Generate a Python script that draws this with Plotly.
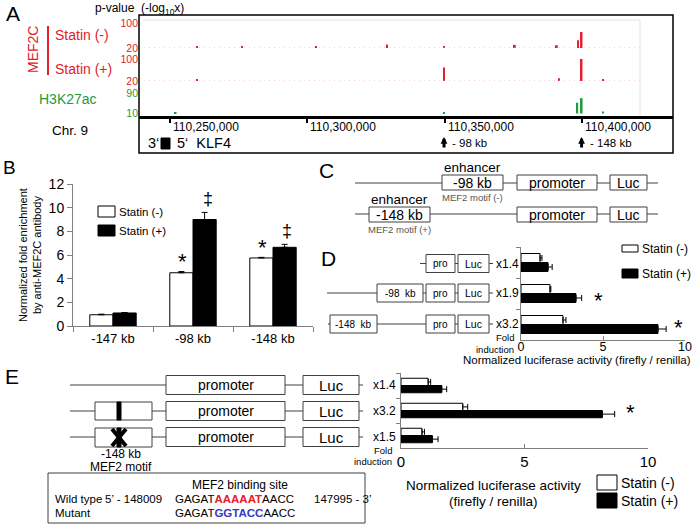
import plotly.graph_objects as go

W, H = 697, 528
FONT = 'Liberation Sans, Arial, sans-serif'
RED = '#e3202b'
GREEN = '#1f9a3c'
PINK = '#f4a9b0'
GREY = '#808080'
DARK = '#404040'

# ---- A: chr9 signal tracks (-log10 p) ----
chr_ticks = [110250000, 110300000, 110350000, 110400000]
chr_ticktext = ['110,250,000', '110,300,000', '110,350,000', '110,400,000']
chr_range = [110238700, 110433200]
track_end = 110421100
minus_pos = [110259800, 110276200, 110303200, 110329000, 110349800, 110375600, 110390900, 110398600, 110399900]
minus_val = [24, 26, 25, 31, 25, 30, 29, 45, 71]
plus_pos = [110259800, 110349800, 110391700, 110399900, 110407700]
plus_val = [24, 69, 30, 100, 27]
h3k_pos = [110252000, 110349800, 110398300, 110399900, 110407700]
h3k_val = [13, 13, 52, 70, 18]
sites = ['- 98 kb', '- 148 kb']
site_pos = [110349800, 110399900]

# ---- B: ChIP-qPCR ----
b_sites = ['-147 kb', '-98 kb', '-148 kb']
b_minus = [0.95, 4.5, 5.75]
b_minus_err = [0.05, 0.1, 0.05]
b_plus = [1.1, 9.0, 6.65]
b_plus_err = [0.03, 0.6, 0.25]

# ---- D: reporter assay ----
d_constructs = ['pro-Luc', '-98 kb', '-148 kb']
d_minus = [1.16, 1.77, 2.56]
d_minus_err = [0.12, 0.05, 0.18]
d_plus = [1.65, 3.35, 8.35]
d_plus_err = [0.25, 0.35, 0.5]
d_fold = ['x1.4', 'x1.9', 'x3.2']

# ---- E: MEF2 motif mutation ----
e_constructs = ['promoter', 'wild type', 'mutant']
e_minus = [1.1, 2.5, 0.85]
e_minus_err = [0.1, 0.2, 0.1]
e_plus = [1.65, 8.15, 1.27]
e_plus_err = [0.2, 0.5, 0.23]
e_fold = ['x1.4', 'x3.2', 'x1.5']


def px(x):
    return x / W


def py(y):
    return 1 - y / H


shapes = []
annotations = []


def box(x0, y0, x1, y1, fill='white', line=DARK, width=1):
    shapes.append(dict(type='rect', xref='paper', yref='paper', x0=px(x0), x1=px(x1),
                       y0=py(y1), y1=py(y0), fillcolor=fill, line=dict(color=line, width=width)))


def seg(x0, y0, x1, y1, color=DARK, width=1):
    shapes.append(dict(type='line', xref='paper', yref='paper', x0=px(x0), x1=px(x1),
                       y0=py(y0), y1=py(y1), line=dict(color=color, width=width)))


def text(x, y, s, size=12, color='black', xanchor='center', angle=0):
    annotations.append(dict(x=px(x), y=py(y), xref='paper', yref='paper', text=s, showarrow=False,
                            xanchor=xanchor, yanchor='middle', textangle=angle,
                            font=dict(size=size, color=color, family=FONT)))


fig = go.Figure()

# panel A traces
for yax, base in (('y', 20), ('y2', 20)):
    fig.add_trace(go.Scatter(x=[chr_range[0], track_end], y=[base, base], mode='lines',
                             line=dict(color=PINK, width=1, dash='1px,4px'),
                             xaxis='x', yaxis=yax, hoverinfo='skip'))
fig.add_trace(go.Bar(x=minus_pos, y=[v - 20 for v in minus_val], base=20, width=650,
                     marker=dict(color=RED, line_width=0), xaxis='x', yaxis='y'))
fig.add_trace(go.Bar(x=plus_pos, y=[v - 20 for v in plus_val], base=20, width=650,
                     marker=dict(color=RED, line_width=0), xaxis='x', yaxis='y2'))
fig.add_trace(go.Bar(x=h3k_pos, y=[v - 10 for v in h3k_val], base=10, width=700,
                     marker=dict(color=GREEN, line_width=0), xaxis='x', yaxis='y3'))

err = dict(type='data', symmetric=False, color='black', thickness=1, width=3)

# panel B
fig.add_trace(go.Bar(x=b_sites, y=b_minus, name='Statin (-)',
                     marker=dict(color='white', line=dict(color='black', width=1)),
                     error_y=dict(err, array=b_minus_err, arrayminus=[0] * 3), xaxis='x2', yaxis='y4'))
fig.add_trace(go.Bar(x=b_sites, y=b_plus, name='Statin (+)',
                     marker=dict(color='black', line=dict(color='black', width=1)),
                     error_y=dict(err, array=b_plus_err, arrayminus=[0] * 3), xaxis='x2', yaxis='y4'))

# panel D
fig.add_trace(go.Bar(y=d_constructs, x=d_minus, orientation='h',
                     marker=dict(color='white', line=dict(color='black', width=1)),
                     error_x=dict(err, array=d_minus_err, arrayminus=[0] * 3), xaxis='x3', yaxis='y5'))
fig.add_trace(go.Bar(y=d_constructs, x=d_plus, orientation='h',
                     marker=dict(color='black', line=dict(color='black', width=1)),
                     error_x=dict(err, array=d_plus_err, arrayminus=[0] * 3), xaxis='x3', yaxis='y5'))

# panel E
fig.add_trace(go.Bar(y=e_constructs, x=e_minus, orientation='h',
                     marker=dict(color='white', line=dict(color='black', width=1)),
                     error_x=dict(err, array=e_minus_err, arrayminus=[0] * 3), xaxis='x4', yaxis='y6'))
fig.add_trace(go.Bar(y=e_constructs, x=e_plus, orientation='h',
                     marker=dict(color='black', line=dict(color='black', width=1)),
                     error_x=dict(err, array=e_plus_err, arrayminus=[0] * 3), xaxis='x4', yaxis='y6'))

# ---------- panel A decorations ----------
text(13, 13, 'A', 21)
text(93, 9, 'p-value  (-log<sub>10</sub>x)', 12, xanchor='left')
box(139, 15, 673, 153, fill='rgba(0,0,0,0)', line='black', width=1.5)
seg(143, 20, 640, 20, '#e2e2e2')
seg(640, 20, 640, 115, '#e2e2e2')
text(33, 50, 'MEF2C', 14, RED, angle=-90)
seg(48, 26, 48, 75, RED, 2)
text(53, 35, 'Statin (-)', 14, RED, 'left')
text(53, 69, 'Statin (+)', 14, RED, 'left')
text(37, 99, 'H3K27ac', 14, GREEN, 'left')
text(50, 130, 'Chr. 9', 13.5, xanchor='left')
for t, lab in zip(chr_ticks, chr_ticktext):
    annotations.append(dict(x=t, xref='x', y=py(127), yref='paper', text=lab, showarrow=False,
                            xanchor='left', yanchor='middle', xshift=1,
                            font=dict(size=12, family=FONT)))
for p, lab in zip(site_pos, sites):
    annotations.append(dict(x=p, xref='x', y=py(137), yref='paper', text='', showarrow=True,
                            ax=0, ay=12, arrowhead=2, arrowsize=0.45, arrowwidth=3, arrowcolor='black'))
    annotations.append(dict(x=p, xref='x', y=py(143), yref='paper', text=lab, showarrow=False,
                            xanchor='left', yanchor='middle', xshift=6,
                            font=dict(size=11.5, family=FONT)))
text(146, 143.5, '3‘', 14.5, xanchor='left')
box(161, 138, 170, 149, fill='black', line='black')
text(175, 143.5, '5‘  KLF4', 14.5, xanchor='left')

# ---------- panel B decorations ----------
text(9, 168, 'B', 19)
text(30, 255, 'Normalized fold enrichment<br>by anti-MEF2C antibody', 11, angle=-90)
box(98, 206, 115, 217, line='black')
text(117, 211.5, 'Statin (-)', 11.5, xanchor='left')
box(98, 225, 115, 236, fill='black', line='black')
text(117, 230.5, 'Statin (+)', 11.5, xanchor='left')
text(182, 261, '*', 22)
text(208, 199, '‡', 18)
text(262, 247, '*', 22)
text(287, 231, '‡', 18)

# ---------- panel C ----------
text(326, 170, 'C', 21)
seg(355, 183, 658, 183)
box(442, 175, 503, 190)
box(517, 175, 597, 190)
box(610, 175, 647, 190)
text(472, 167, 'enhancer', 13.5)
text(472, 182.5, '-98 kb', 14)
text(472, 197.5, 'MEF2 motif (-)', 9.5, '#555555')
text(557, 182.5, 'promoter', 14)
text(628.5, 182.5, 'Luc', 14)
seg(355, 214, 658, 214)
box(369, 207, 430, 222)
box(517, 207, 597, 222)
box(610, 207, 647, 222)
text(399, 199, 'enhancer', 13.5)
text(399, 214.5, '-148 kb', 14)
text(399, 230, 'MEF2 motif (+)', 9.5, '#555555')
text(557, 214.5, 'promoter', 14)
text(628.5, 214.5, 'Luc', 14)

# ---------- panel D diagrams ----------
text(328, 258, 'D', 21)
d_rows = [263.5, 293, 324]
seg(420, d_rows[0], 493, d_rows[0])
seg(327, d_rows[1], 493, d_rows[1])
seg(328, d_rows[2], 493, d_rows[2])
box(377, 284, 423, 302)
text(400, 293, '-98  kb', 10)
box(330, 315, 377, 333)
text(353.5, 324, '-148  kb', 10)
for r, f in zip(d_rows, d_fold):
    box(426, r - 9, 455, r + 9)
    text(440.5, r, 'pro', 10)
    box(458, r - 9, 489, r + 9)
    text(473.5, r, 'Luc', 10.5)
    text(494, r, f, 12, xanchor='left')
text(516, 337, 'Fold', 9.5, xanchor='right')
text(516, 349.5, 'induction', 9.5, xanchor='right')
text(577, 359.5, 'Normalized luciferase activity (firefly / renilla)', 11.5)
box(622, 245, 638, 252, line='black')
text(640, 248.5, 'Statin (-)', 12, xanchor='left')
box(622, 269, 638, 278, fill='black', line='black')
text(640, 273.5, 'Statin (+)', 12, xanchor='left')
text(598, 300, '*', 22)
text(678, 327, '*', 22)

# ---------- panel E diagrams ----------
text(12, 376, 'E', 21)
e_rows = [385, 411, 437]
seg(70, e_rows[0], 363, e_rows[0])
seg(70, e_rows[1], 363, e_rows[1])
seg(70, e_rows[2], 363, e_rows[2])
box(95, 402, 152, 420)
box(117, 402, 121, 420, fill='black', line='black')
box(95, 428, 152, 447)
box(117, 428, 121, 447, fill='black', line='black')
seg(112, 429, 126, 446, 'black', 4)
seg(126, 429, 112, 446, 'black', 4)
for r, f in zip(e_rows, e_fold):
    box(166, r - 9.5, 285, r + 9.5)
    text(225.5, r, 'promoter', 14)
    box(303, r - 9.5, 359, r + 9.5)
    text(331, r, 'Luc', 15)
    text(371, r, f, 12, xanchor='left')
text(121, 453.5, '-148 kb', 12)
text(121, 466.5, 'MEF2 motif', 12)
text(394, 450, 'Fold', 9.5, xanchor='right')
text(394, 461.5, 'induction', 9.5, xanchor='right')
box(48, 473, 365, 523, fill='rgba(0,0,0,0)', line=DARK)
text(240, 485, 'MEF2 binding site', 12)
text(53, 498.5, 'Wild type', 11.5, xanchor='left')
text(103, 498.5, '5’ - 148009', 11.5, xanchor='left')
text(173, 498.5, 'GAGAT<b><span style="color:#e3202b">AAAAAT</span></b>AACC', 11.5, xanchor='left')
text(312, 498.5, '147995 - 3’', 11.5, xanchor='left')
text(53, 513, 'Mutant', 11.5, xanchor='left')
text(173, 513, 'GAGAT<b><span style="color:#3a3ac0">GGTACC</span></b>AACC', 11.5, xanchor='left')
text(493, 485, 'Normalized luciferase activity', 13.5)
text(493, 501, '(firefly / renilla)', 13.5)
box(597, 475, 617, 490, line='black')
text(619, 482.5, 'Statin (-)', 14, xanchor='left')
box(597, 493, 617, 508, fill='black', line='black')
text(619, 500.5, 'Statin (+)', 14, xanchor='left')
text(630, 412, '*', 22)

noax = dict(showgrid=False, zeroline=False, automargin=False)
track_y = dict(noax, anchor='x', showline=False, ticks='', fixedrange=True)
cat_y = dict(noax, type='category', autorange='reversed', showline=True, linecolor=GREY,
             ticks='outside', tickson='boundaries', ticklen=4, tickcolor=GREY, showticklabels=False)
lum_x = dict(noax, range=[0, 10], tickvals=[0, 5, 10], ticks='inside', ticklen=4,
             showline=True, linecolor=GREY, tickcolor=GREY)

fig.update_layout(
    template='none',
    width=W, height=H, margin=dict(l=0, r=0, t=0, b=0, pad=0, autoexpand=False),
    paper_bgcolor='white', plot_bgcolor='white',
    font=dict(family=FONT, color='black'),
    showlegend=False, barmode='group', bargap=0.42, bargroupgap=0,
    xaxis=dict(noax, domain=[px(139), px(673)], range=chr_range, anchor='y3', showline=True,
               linecolor='black', linewidth=2.5, ticks='outside', ticklen=4, tickwidth=2,
               tickcolor='black', tickvals=chr_ticks, showticklabels=False),
    yaxis=dict(track_y, domain=[py(48), py(23)], range=[20, 100], tickvals=[20, 100],
               tickfont=dict(size=10.5, color=RED)),
    yaxis2=dict(track_y, domain=[py(81), py(59)], range=[20, 100], tickvals=[20, 100],
                tickfont=dict(size=10.5, color=RED)),
    yaxis3=dict(track_y, domain=[py(116), py(93)], range=[0, 90], tickvals=[10, 90],
                tickfont=dict(size=10.5, color=GREEN)),
    xaxis2=dict(noax, domain=[px(73), px(313)], anchor='y4', type='category', showline=True,
                linecolor=GREY, ticks='outside', tickson='boundaries', ticklen=5, tickcolor=GREY,
                tickfont=dict(size=13)),
    yaxis4=dict(noax, domain=[py(326), py(184)], anchor='x2', range=[0, 12], dtick=2,
                showline=True, linecolor=GREY, ticks='outside', ticklen=5, tickcolor=GREY,
                tickfont=dict(size=14)),
    xaxis3=dict(lum_x, domain=[px(521), px(685)], anchor='y5', tickfont=dict(size=12.5),
                ticklabelstandoff=-5),
    yaxis5=dict(cat_y, domain=[py(340), py(247)], anchor='x3'),
    xaxis4=dict(lum_x, domain=[px(401), px(648)], anchor='y6', tickfont=dict(size=15)),
    yaxis6=dict(cat_y, domain=[py(448), py(373)], anchor='x4'),
    shapes=shapes, annotations=annotations,
)

# the page's default body margin would push the 697x528 figure off the window
fig.write_html("out.html", config={'displayModeBar': False},
               post_script=["document.body.style.margin = '0';"])
